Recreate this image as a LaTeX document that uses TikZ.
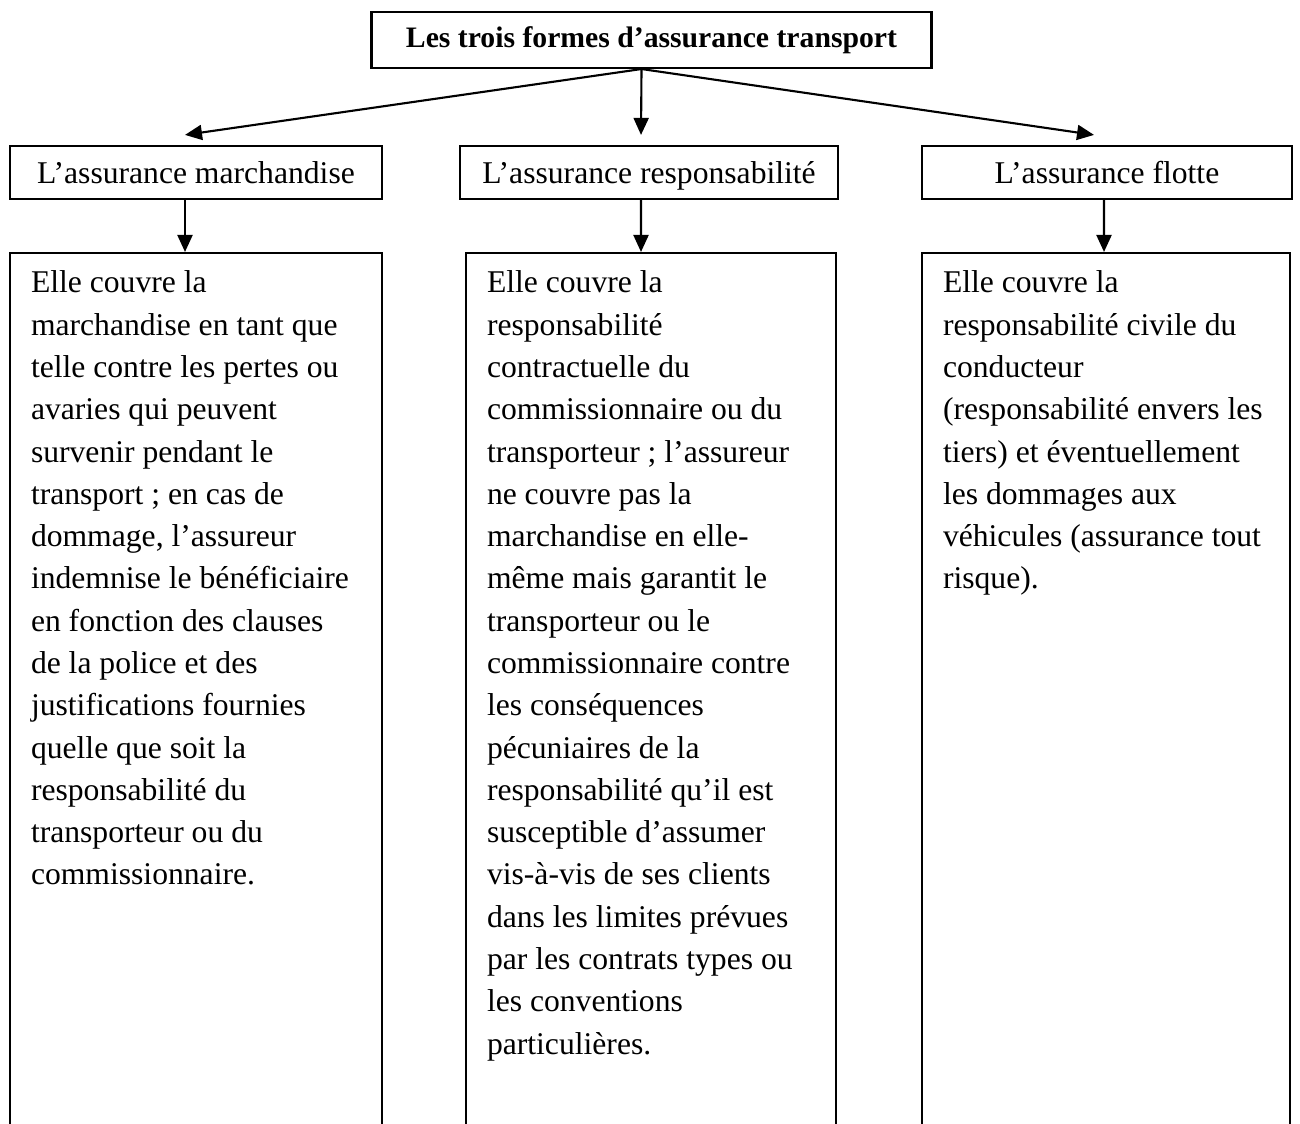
\documentclass[tikz,border=0pt]{standalone}
\usepackage{fontspec}
\setmainfont{Liberation Serif}
\usetikzlibrary{arrows.meta}

\newcommand{\desctext}[2]{\parbox[t][9cm][t]{#1}{\raggedright\leftskip=0.21cm #2}}

\begin{document}
\begin{tikzpicture}[>={Triangle[length=1.7mm,width=1.5mm]}, line width=0.6pt,
        titlebox/.style={draw, inner sep=0pt, minimum height=0.56cm, font=\fontsize{8.45}{10}\selectfont\bfseries},
        formbox/.style={draw, inner sep=0pt, minimum height=0.53cm, text height=6.2pt, text depth=0pt, font=\fontsize{9}{12}\selectfont},
        descbox/.style={draw, anchor=north, inner xsep=0pt, inner ysep=0.18cm, font=\fontsize{9}{12.03}\selectfont}]
            \useasboundingbox (0,0) rectangle (13,11.24);
            \clip (0,0) rectangle (13,11.24);

            \node[titlebox, minimum width=5.6cm] (formes) at (6.515,10.84) {Les trois formes d’assurance transport};

            \node[formbox, minimum width=3.72cm] (march) at (1.96,9.515) {L’assurance marchandise};
            \node[formbox, minimum width=3.78cm] (resp) at (6.49,9.515) {L’assurance responsabilité};
            \node[formbox, minimum width=3.70cm] (flotte) at (11.07,9.515) {L’assurance flotte};

            \node[descbox] (marchd) at (1.96,8.72) {\desctext{3.72cm}{Elle couvre la\\
                marchandise en tant que\\
                telle contre les pertes ou\\
                avaries qui peuvent\\
                survenir pendant le\\
                transport ; en cas de\\
                dommage, l’assureur\\
                indemnise le bénéficiaire\\
                en fonction des clauses\\
                de la police et des\\
                justifications fournies\\
                quelle que soit la\\
                responsabilité du\\
                transporteur ou du\\
                commissionnaire.}};
            \node[descbox] (respd) at (6.51,8.72) {\desctext{3.70cm}{Elle couvre la\\
                responsabilité\\
                contractuelle du\\
                commissionnaire ou du\\
                transporteur ; l’assureur\\
                ne couvre pas la\\
                marchandise en elle-\\
                même mais garantit le\\
                transporteur ou le\\
                commissionnaire contre\\
                les conséquences\\
                pécuniaires de la\\
                responsabilité qu’il est\\
                susceptible d’assumer\\
                vis-à-vis de ses clients\\
                dans les limites prévues\\
                par les contrats types ou\\
                les conventions\\
                particulières.}};
            \node[descbox] (flotted) at (11.06,8.72) {\desctext{3.68cm}{Elle couvre la\\
                responsabilité civile du\\
                conducteur\\
                (responsabilité envers les\\
                tiers) et éventuellement\\
                les dommages aux\\
                véhicules (assurance tout\\
                risque).}};

            \draw[->] ([xshift=-0.1cm]formes.south) to ([xshift=-0.11cm,yshift=0.1cm]march.north);
            \draw[->] ([xshift=-0.1cm]formes.south) to ([xshift=-0.08cm,yshift=0.1cm]resp.north);
            \draw[->] ([xshift=-0.1cm]formes.south) to ([xshift=-0.13cm,yshift=0.1cm]flotte.north);

            \draw[->] ([xshift=-0.11cm]march.south) to ([xshift=-0.11cm]marchd.north);
            \draw[->] ([xshift=-0.08cm]resp.south) to ([xshift=-0.10cm]respd.north);
            \draw[->] ([xshift=-0.03cm]flotte.south) to ([xshift=-0.02cm]flotted.north);
        \end{tikzpicture}
\end{document}
